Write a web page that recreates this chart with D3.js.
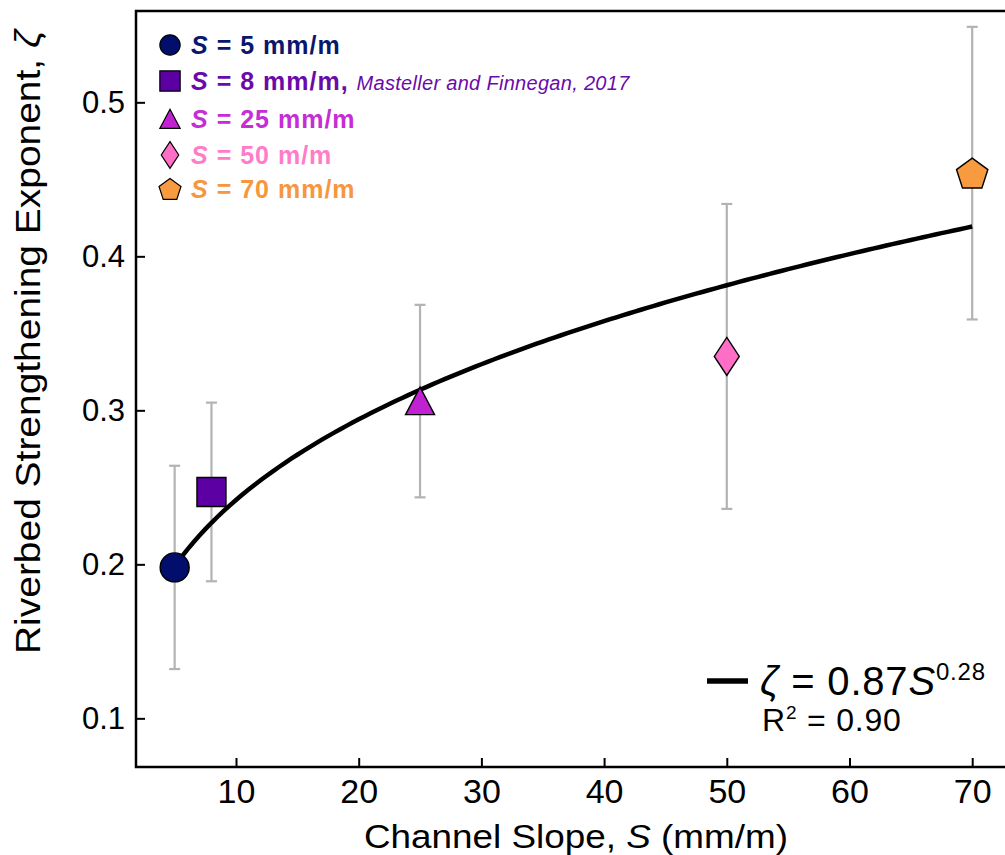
<!DOCTYPE html>
<html lang="en">
<head>
  <meta charset="utf-8">
  <title>Riverbed strengthening exponent</title>
  <script src="https://d3js.org/d3.v7.min.js"></script>
  <style>
    body { margin: 0; background: #fff; }
    svg text { font-family: "Liberation Sans", Arial, sans-serif; }
  </style>
</head>
<body>
  <div id="chart"></div>

  <script>
    "use strict"

    // dados
    const slopes = [5, 8, 25, 50, 70];                 // S (mm/m)
    const zeta = [0.198, 0.247, 0.306, 0.335, 0.454];  // expoente
    const zetaErr = [0.066, 0.058, 0.0625, 0.099, 0.095];
    const legendLabels = ["5 mm/m", "8 mm/m", "25 mm/m", "50 m/m", "70 mm/m"];
    const xTicks = [10, 20, 30, 40, 50, 60, 70];
    const yTicks = [0.1, 0.2, 0.3, 0.4, 0.5];
    // ajuste zeta = a * (S/1000)^b
    const fitCoef = 0.89, fitExp = 0.283;
    const fitRange = [5, 70];

    const fills = ["#020e6b", "#5c00a4", "#c022d2", "#ff6ec6", "#f89a40"];
    const textCols = ["#0b176d", "#6a0ba9", "#c52dd5", "#ff7cc9", "#f7963d"];
    const shapes = ["circle", "square", "triangle", "diamond", "pentagon"];

    // caminho do marcador centrado em (0,0), k = escala
    function markerPath(type, k) {
      const p = d3.path();
      if (type === "circle") {
        p.arc(0, 0, 14.5 * k, 0, 2 * Math.PI);
      } else if (type === "square") {
        p.rect(-14.5 * k, -14.5 * k, 29 * k, 29 * k);
      } else if (type === "triangle") {
        p.moveTo(0, -14 * k); p.lineTo(14.5 * k, 13.5 * k); p.lineTo(-14.5 * k, 13.5 * k);
      } else if (type === "diamond") {
        p.moveTo(0, -19 * k); p.lineTo(12.5 * k, 0); p.lineTo(0, 19 * k); p.lineTo(-12.5 * k, 0);
      } else {
        const r = 16.5 * k;
        for (let i = 0; i < 5; i++) {
          const a = -Math.PI / 2 + i * 2 * Math.PI / 5;
          if (i === 0) p.moveTo(r * Math.cos(a), r * Math.sin(a) + 1.5 * k);
          else p.lineTo(r * Math.cos(a), r * Math.sin(a) + 1.5 * k);
        }
      }
      p.closePath();
      return p.toString();
    }

    function desenha() {
      const larguraSVG = 1005, alturaSVG = 855;
      const left = 136, top = 11, bottom = 767, right = 1009;

      const svg = d3.select("#chart").append("svg")
        .attr("width", larguraSVG)
        .attr("height", alturaSVG);

      const x = d3.scaleLinear().domain([1.85, 73]).range([left, right]);
      const y = d3.scaleLinear().domain([0.0684, 0.5593]).range([bottom, top]);

      // barras de erro
      const err = svg.append("g")
        .attr("stroke", "#b3b3b3")
        .attr("stroke-width", 2.2)
        .selectAll("g").data(slopes).enter().append("g");
      err.append("line")
        .attr("x1", d => x(d)).attr("x2", d => x(d))
        .attr("y1", (d, i) => y(zeta[i] - zetaErr[i]))
        .attr("y2", (d, i) => y(zeta[i] + zetaErr[i]));
      err.append("line")
        .attr("x1", d => x(d) - 5.5).attr("x2", d => x(d) + 5.5)
        .attr("y1", (d, i) => y(zeta[i] + zetaErr[i]))
        .attr("y2", (d, i) => y(zeta[i] + zetaErr[i]));
      err.append("line")
        .attr("x1", d => x(d) - 5.5).attr("x2", d => x(d) + 5.5)
        .attr("y1", (d, i) => y(zeta[i] - zetaErr[i]))
        .attr("y2", (d, i) => y(zeta[i] - zetaErr[i]));

      // curva de ajuste
      const curva = d3.range(fitRange[0], fitRange[1] + 0.01, 0.5)
        .map(s => [s, fitCoef * Math.pow(s / 1000, fitExp)]);
      svg.append("path")
        .datum(curva)
        .attr("fill", "none")
        .attr("stroke", "#000")
        .attr("stroke-width", 4.5)
        .attr("d", d3.line().x(d => x(d[0])).y(d => y(d[1])));

      // marcadores
      svg.append("g").selectAll("path").data(slopes).enter().append("path")
        .attr("transform", (d, i) => "translate(" + x(d) + "," + y(zeta[i]) + ")")
        .attr("d", (d, i) => markerPath(shapes[i], 1))
        .attr("fill", (d, i) => fills[i])
        .attr("stroke", "#000")
        .attr("stroke-width", 1.4);

      // eixos (ticks para dentro)
      const eixoX = svg.append("g")
        .attr("transform", "translate(0," + bottom + ")")
        .call(d3.axisBottom(x).tickValues(xTicks).tickSizeInner(-9).tickSizeOuter(0).tickPadding(12));
      eixoX.selectAll("text")
        .attr("font-size", 34)
        .attr("fill", "#000");

      const eixoY = svg.append("g")
        .attr("transform", "translate(" + left + ",0)")
        .call(d3.axisLeft(y).tickValues(yTicks).tickFormat(d3.format(".1f")).tickSizeInner(-9).tickSizeOuter(0).tickPadding(11));
      eixoY.selectAll("text").attr("font-size", 31).attr("fill", "#000");

      svg.selectAll(".domain").remove();
      svg.selectAll(".tick line").attr("stroke", "#000").attr("stroke-width", 2);
      svg.selectAll(".tick").attr("font-family", null);

      // moldura
      svg.append("path")
        .attr("d", "M" + right + "," + top + "H" + left + "V" + bottom + "H" + right)
        .attr("fill", "none")
        .attr("stroke", "#000")
        .attr("stroke-width", 2.5);

      // titulos dos eixos
      const xl = svg.append("text")
        .attr("x", 576).attr("y", 848)
        .attr("text-anchor", "middle")
        .attr("font-size", 34)
        .attr("textLength", 424)
        .attr("lengthAdjust", "spacingAndGlyphs");
      xl.append("tspan").text("Channel Slope, ");
      xl.append("tspan").attr("font-style", "italic").text("S");
      xl.append("tspan").text(" (mm/m)");

      const yl = svg.append("text")
        .attr("transform", "translate(40,342) rotate(-90)")
        .attr("text-anchor", "middle")
        .attr("font-size", 35)
        .attr("textLength", 624)
        .attr("lengthAdjust", "spacingAndGlyphs");
      yl.append("tspan").text("Riverbed Strengthening Exponent, ");
      yl.append("tspan").attr("font-style", "italic").text("ζ");

      // legenda
      const legY = [45, 81, 119, 155, 189];
      const leg = svg.append("g").selectAll("g").data(slopes).enter().append("g")
        .attr("transform", (d, i) => "translate(170," + legY[i] + ")");
      leg.append("path")
        .attr("d", (d, i) => markerPath(shapes[i], 0.7))
        .attr("fill", (d, i) => fills[i])
        .attr("stroke", "#000")
        .attr("stroke-width", 1.2);
      const lt = leg.append("text")
        .attr("x", 21).attr("y", 9)
        .attr("font-size", 25)
        .attr("letter-spacing", 1)
        .attr("font-weight", "bold")
        .attr("fill", (d, i) => textCols[i]);
      lt.append("tspan").attr("font-style", "italic").text("S");
      lt.append("tspan").text((d, i) => " = " + legendLabels[i]);
      lt.filter((d, i) => i === 1).append("tspan").text(", ");
      lt.filter((d, i) => i === 1).append("tspan")
        .attr("font-weight", "normal")
        .attr("font-style", "italic")
        .attr("font-size", 20)
        .attr("letter-spacing", 0.3)
        .text("Masteller and Finnegan, 2017");

      // equacao do ajuste
      svg.append("line")
        .attr("x1", 707).attr("x2", 748).attr("y1", 681).attr("y2", 681)
        .attr("stroke", "#000").attr("stroke-width", 5.5);
      const eq = svg.append("text")
        .attr("x", 760).attr("y", 695)
        .attr("font-size", 40)
        .attr("letter-spacing", 0.8);
      eq.append("tspan").attr("font-style", "italic").text("ζ");
      eq.append("tspan").text(" = 0.87");
      eq.append("tspan").attr("font-style", "italic").text("S");
      eq.append("tspan").attr("font-size", 24).attr("dy", -15).text("0.28");
      svg.append("text")
        .attr("x", 762).attr("y", 731)
        .attr("font-size", 32)
        .attr("letter-spacing", 0.8)
        .html('R<tspan font-size="19" dy="-12">2</tspan><tspan dy="12"> = 0.90</tspan>');
    }

    desenha();
  </script>
</body>
</html>
